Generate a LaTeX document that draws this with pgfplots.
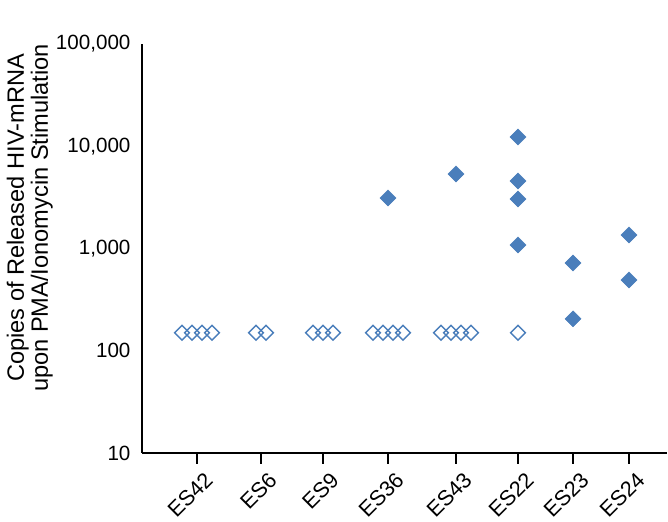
\documentclass[border=0pt]{standalone}
\usepackage{fontspec}
\setmainfont{Liberation Sans}
\usepackage{pgfplots}
\pgfplotsset{compat=1.18}
\definecolor{mblue}{HTML}{4A7EBB}
\begin{document}
\begin{tikzpicture}
\begin{axis}[
  scale only axis,
  width=262.5pt, height=204.5pt,
  xmin=143, xmax=668,
  ymode=log, ymin=10, ymax=100000,
  axis x line=bottom, axis y line=left,
  axis line style={-, line width=1pt, black},
  xtick={198,262,324,389,457,519,574,630},
  xticklabels={ES42,ES6,ES9,ES36,ES43,ES22,ES23,ES24},
  x tick style={line width=1pt, black},
  xtick align=outside,
  major tick length=5.5pt,
  ytick={10,100,1000,10000,100000},
  yticklabels={10,100,{1,000},{10,000},{100,000}},
  y tick style={draw=none},
  minor ytick={},
  yminorticks=false,
  yticklabel style={anchor=east, xshift=0.5pt, font=\fontsize{10.3pt}{12pt}\selectfont},
  xticklabel style={rotate=45, anchor=north east, inner sep=1pt, xshift=1pt, yshift=-3.5pt, font=\fontsize{10.8pt}{12pt}\selectfont},
  ylabel={Copies of Released HIV-mRNA\\upon PMA/Ionomycin Stimulation},
  every axis y label/.style={rotate=90, align=center, at={(axis description cs:-0.214,0.5746)}, anchor=center, font=\fontsize{11.8pt}{12pt}\selectfont},
  clip=false,
]
\path (rel axis cs:0,1) -- ++(0pt,22pt);
\addplot[only marks, mark=square, mark size=2.6pt, mark options={rotate=45, draw=mblue, fill=white, line width=0.75pt}]
  coordinates {
  (183,150) (193,150) (203,150) (213,150)
  (257,150) (267,150)
  (314,150) (324,150) (334,150)
  (374,150) (384,150) (394,150) (404,150)
  (442,150) (452,150) (462,150) (472,150)
  (519,150)
  };
\addplot[only marks, mark=square*, mark size=2.8pt, mark options={rotate=45, draw=mblue, fill=mblue, line width=0.3pt}]
  coordinates {
  (389,3119)
  (457,5355)
  (519,12310) (519,4572) (519,3048) (519,1082)
  (574,721) (574,205)
  (630,1356) (630,492)
  };
\end{axis}
\end{tikzpicture}
\end{document}
